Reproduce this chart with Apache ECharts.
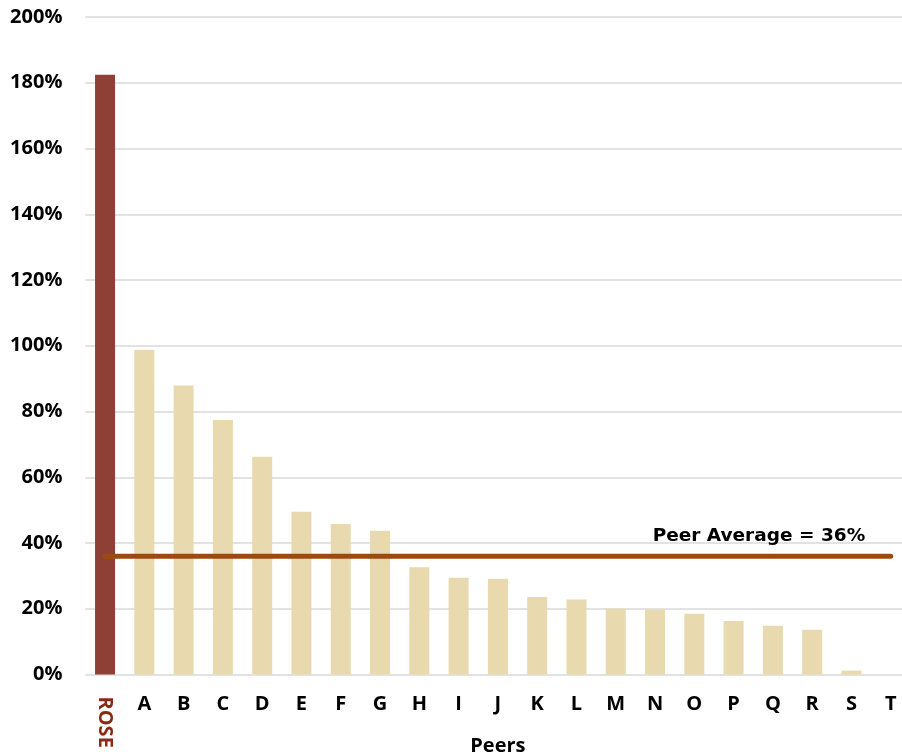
<!DOCTYPE html>
<html>
<head>
<meta charset="utf-8">
<title>Peers</title>
<script src="https://cdn.jsdelivr.net/npm/echarts@6/dist/echarts.min.js"></script>
<style>
  html, body { margin: 0; padding: 0; background: #ffffff; }
  #chart { width: 902px; height: 756px; }
</style>
</head>
<body>
<div id="chart"></div>
<script>
// Companies: the subject first, then its peers
const categories = ['ROSE', 'A', 'B', 'C', 'D', 'E', 'F', 'G', 'H', 'I', 'J', 'K', 'L', 'M', 'N', 'O', 'P', 'Q', 'R', 'S', 'T'];
// Values in percent
const values = [182.4, 98.8, 87.9, 77.4, 66.2, 49.5, 45.8, 43.7, 32.6, 29.4, 29.1, 23.6, 22.8, 20.0, 19.8, 18.5, 16.3, 14.8, 13.6, 1.2, 0];
const peerAverage = 36;
const subject = 'ROSE';
const averageLabelAt = 'Q';

const subjectColor = '#8E4036';
const peerColor = '#E8D9AE';
const averageColor = '#9C4A10';
const labelFont = 'Open Sans';

const chart = echarts.init(document.getElementById('chart'));

chart.setOption({
  animation: false,
  backgroundColor: '#ffffff',
  grid: {
    left: 85.4, top: 17, width: 825, bottom: 81.5,
    containLabel: false,
    outerBoundsMode: 'none'
  },
  xAxis: [
    {
      type: 'category',
      data: categories,
      axisLine: { show: false },
      axisTick: { show: false },
      axisLabel: {
        margin: 20,
        fontFamily: labelFont,
        fontWeight: 'bold',
        fontSize: 20,
        color: '#000000',
        interval: 0,
        formatter: v => (v === subject ? '' : v)
      },
      name: 'Peers',
      nameLocation: 'middle',
      nameGap: 62,
      nameTextStyle: { fontFamily: labelFont, fontWeight: 'bold', fontSize: 20, color: '#000000' }
    },
    {
      // second bottom axis carries only the subject's label, turned on its side
      type: 'category',
      data: categories,
      position: 'bottom',
      axisLine: { show: false },
      axisTick: { show: false },
      splitLine: { show: false },
      axisLabel: {
        margin: 22,
        rotate: -90,
        interval: 0,
        fontFamily: labelFont,
        fontWeight: 'bold',
        fontSize: 20,
        color: '#8B2A14',
        formatter: v => (v === subject ? v : '')
      }
    }
  ],
  yAxis: {
    type: 'value',
    min: 0,
    max: 200,
    interval: 20,
    axisLine: { show: false },
    axisTick: { show: false },
    splitLine: { lineStyle: { color: '#d9d9d9', width: 1.5 } },
    axisLabel: {
      margin: 23,
      fontFamily: labelFont,
      fontWeight: 'bold',
      fontSize: 20,
      color: '#000000',
      formatter: '{value}%'
    }
  },
  series: [
    {
      type: 'bar',
      barWidth: 20,
      data: values.map((v, i) => ({
        value: v,
        itemStyle: { color: categories[i] === subject ? subjectColor : peerColor }
      }))
    },
    {
      type: 'line',
      data: categories.map(() => peerAverage),
      symbol: 'none',
      lineStyle: { color: averageColor, width: 5, cap: 'round' },
      z: 5
    },
    {
      // anchor for the average line's caption
      type: 'scatter',
      data: [[averageLabelAt, peerAverage]],
      symbolSize: 1,
      itemStyle: { color: averageColor, opacity: 1 },
      label: {
        show: true,
        position: 'top',
        offset: [-14, -5],
        fontFamily: 'DejaVu Sans',
        fontWeight: 'bold',
        fontSize: 18.5,
        color: '#000000',
        opacity: 1,
        textBorderWidth: 0,
        formatter: () => 'Peer Average = ' + peerAverage + '%'
      },
      silent: true,
      z: 6
    }
  ]
});
</script>
</body>
</html>
